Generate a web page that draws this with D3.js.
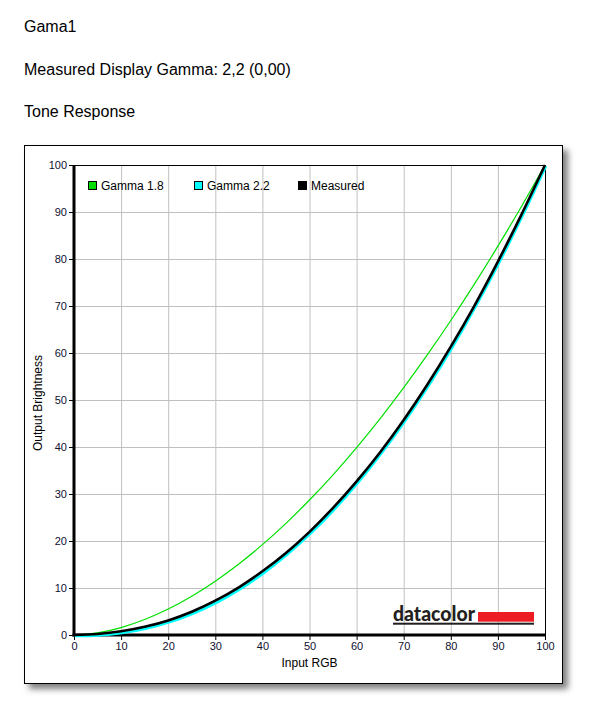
<!DOCTYPE html>
<html><head><meta charset="utf-8">
<script src="https://cdn.jsdelivr.net/npm/d3@7"></script>
<style>
html,body{margin:0;padding:0;background:#fff;}
svg{display:block;font-family:"Liberation Sans",Arial,sans-serif;}
</style></head>
<body>
<svg id="c" width="596" height="711"></svg>
<script>
const titles = ["Gama1", "Measured Display Gamma: 2,2 (0,00)", "Tone Response"];
const inputRGB = [0,5,10,15,20,25,30,35,40,45,50,55,60,65,70,75,80,85,90,95,100];
const gamma18 = [0,0.45,1.58,3.29,5.52,8.25,11.45,15.11,19.22,23.76,28.72,34.09,39.87,46.05,52.62,59.59,66.92,74.64,82.73,91.18,100];
const gamma22 = [0,0.14,0.63,1.54,2.90,4.74,7.07,9.93,13.32,17.26,21.76,26.84,32.51,38.76,45.63,53.11,61.21,69.94,79.31,89.33,100];
const measured = [0,0.22,0.8,1.75,3.1,4.95,7.3,10.15,13.55,17.45,21.95,27.05,32.7,38.9,45.75,53.25,61.35,70.05,79.45,89.45,100];
const tickValues = [0,10,20,30,40,50,60,70,80,90,100];
const seriesNames = ["Gamma 1.8", "Gamma 2.2", "Measured"];
const seriesColors = ["#00e000", "#00ffff", "#000000"];

const svg = d3.select("#c");
// titles
svg.selectAll("text.title").data(titles).join("text")
  .attr("class","title").attr("x",24).attr("y",(d,i)=>32+i*42.5)
  .attr("font-size",16).attr("fill","#000").text(d=>d);

// frame with shadow
const defs = svg.append("defs");
const f = defs.append("filter").attr("id","sh").attr("x","-10%").attr("y","-10%").attr("width","130%").attr("height","130%");
f.append("feDropShadow").attr("dx",5).attr("dy",5).attr("stdDeviation",3).attr("flood-color","#000").attr("flood-opacity",0.5);
svg.append("rect").attr("x",24.5).attr("y",145.5).attr("width",538).attr("height",538)
  .attr("fill","#fff").attr("stroke","#000").attr("stroke-width",1).attr("filter","url(#sh)");

const L=74, R=545, T=165, B=635;
const x = d3.scaleLinear().domain([0,100]).range([L,R]);
const y = d3.scaleLinear().domain([0,100]).range([B,T]);

// grid
const g = svg.append("g");
g.selectAll("line.vx").data(tickValues.slice(1,-1)).join("line")
  .attr("x1",d=>x(d)+0.5).attr("x2",d=>x(d)+0.5).attr("y1",T).attr("y2",B)
  .attr("stroke","#c0c0c0").attr("stroke-width",1);
g.selectAll("line.hy").data(tickValues.slice(1,-1)).join("line")
  .attr("y1",d=>Math.round(y(d))+0.5).attr("y2",d=>Math.round(y(d))+0.5).attr("x1",L).attr("x2",R)
  .attr("stroke","#c0c0c0").attr("stroke-width",1);
// top & right border
svg.append("line").attr("x1",L).attr("x2",R+0.5).attr("y1",T+0.5).attr("y2",T+0.5).attr("stroke","#000");
svg.append("line").attr("x1",R+0.5).attr("x2",R+0.5).attr("y1",T).attr("y2",B).attr("stroke","#000");

// axes
const xAxis = d3.axisBottom(x).tickValues(tickValues).tickSize(5).tickPadding(2);
const yAxis = d3.axisLeft(y).tickValues(tickValues).tickSize(5).tickPadding(2);
const gx = svg.append("g").attr("transform",`translate(0,${B})`).call(xAxis);
const gy = svg.append("g").attr("transform",`translate(${L},0)`).call(yAxis);
[gx,gy].forEach(a=>{
  a.select(".domain").remove();
  a.selectAll("text").attr("font-size",11).attr("fill","#101030").attr("font-family","Liberation Sans, Arial, sans-serif");
  a.selectAll(".tick line").attr("stroke","#000");
});
svg.append("line").attr("x1",L).attr("x2",L).attr("y1",T).attr("y2",B+1.5).attr("stroke","#000").attr("stroke-width",3);
svg.append("line").attr("x1",L-1.5).attr("x2",R+1).attr("y1",B).attr("y2",B).attr("stroke","#000").attr("stroke-width",3);

// axis titles
svg.append("text").attr("x",(L+R)/2).attr("y",667).attr("text-anchor","middle").attr("font-size",12).text("Input RGB");
svg.append("text").attr("transform",`translate(42,${(T+B)/2+3}) rotate(-90)`).attr("text-anchor","middle").attr("font-size",12).text("Output Brightness");

// datacolor logo
svg.append("text").attr("x",393).attr("y",621.3).attr("font-size",20).attr("font-weight",900)
  .attr("fill","#231f20").attr("font-family","Lato, DejaVu Sans, sans-serif")
  .attr("textLength",82).attr("lengthAdjust","spacingAndGlyphs").text("datacolor");
svg.append("rect").attr("x",478).attr("y",612).attr("width",56).attr("height",9.7).attr("fill","#ed1c24");
svg.append("rect").attr("x",393).attr("y",622.7).attr("width",141).attr("height",2).attr("fill","#231f20");

// curves
const line = (vals,dx,dy)=>d3.line().x((d,i)=>x(inputRGB[i])+dx).y(d=>y(d)+dy).curve(d3.curveMonotoneX)(vals);
const plot = svg.append("g");
plot.append("path").attr("d",line(gamma22,0.8,0.8)).attr("fill","none").attr("stroke",seriesColors[1]).attr("stroke-width",3);
plot.append("path").attr("d",line(gamma18,0,0)).attr("fill","none").attr("stroke",seriesColors[0]).attr("stroke-width",1.2);
plot.append("path").attr("d",line(measured,0,0)).attr("fill","none").attr("stroke",seriesColors[2]).attr("stroke-width",2.6);

// legend
const legX = [88,194,298];
const lg = svg.selectAll("g.leg").data(seriesNames).join("g").attr("class","leg")
  .attr("transform",(d,i)=>`translate(${legX[i]},181)`);
lg.append("rect").attr("x",0.5).attr("y",0.5).attr("width",8).attr("height",8)
  .attr("fill",(d,i)=>seriesColors[i]).attr("stroke","#000");
lg.append("text").attr("x",13).attr("y",8.5).attr("font-size",12).attr("fill","#000").text(d=>d);
</script>
</body></html>
